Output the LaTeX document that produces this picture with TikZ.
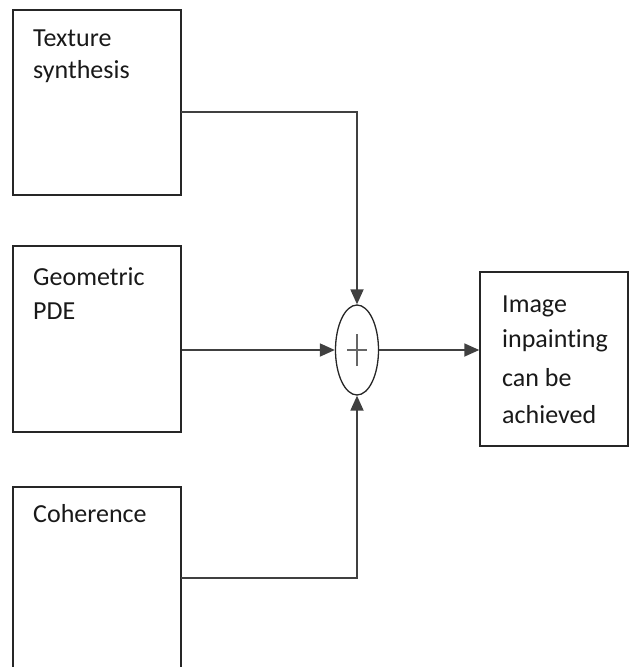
\documentclass[tikz,border=0pt]{standalone}
\usepackage{fontspec}
\setmainfont[Ligatures=NoCommon]{Carlito}
\usetikzlibrary{arrows.meta,shapes.geometric}
\begin{document}
\begin{tikzpicture}[x=1pt,y=-1pt,
  blockbox/.style={draw=black!85,line width=1.5pt,minimum width=168pt,inner sep=0pt},
  openbox/.style={minimum width=168pt,inner sep=0pt},
  label/.style={anchor=base west,inner sep=0pt,font=\fontsize{26}{26}\selectfont,text=black!90},
  conn/.style={draw=black!75,line width=1.8pt},
  arr/.style={conn,-{Triangle[length=15pt,width=13pt]}},
  sumnode/.style={draw=black!85,line width=1.3pt,ellipse,minimum width=43pt,minimum height=90pt,inner sep=0pt}
]
\useasboundingbox (0,0) rectangle (629,667);
% boxes
\node[blockbox,minimum height=185pt] (b1) at (97,102.5) {};
\node[blockbox,minimum height=186pt] (b2) at (97,339) {};
\node[openbox,minimum height=180pt] (b3) at (97,577) {};
\draw[draw=black!85,line width=1.5pt] (b3.south west) |- (b3.north east) -- (b3.south east);
\node[blockbox,minimum width=148pt,minimum height=174pt] (out) at (554,359) {};
% texts
\node[label] (t1a) at (33,46) {Texture};
\node[label] (t1b) at (33,78) {synthesis};
\node[label] (t2a) at (33,285) {Geometric};
\node[label] (t2b) at (33,319) {PDE};
\node[label] (t3a) at (33,522) {Coherence};
\node[label] (t4a) at (502,312) {Image};
\node[label] (t4b) at (502,347) {inpainting};
\node[label] (t4c) at (502,386) {can be};
\node[label] (t4d) at (502,423) {achieved};
% summing junction
\node[sumnode] (sum) at (357,350) {};
\draw[draw=black!60,line width=1.8pt] ([xshift=-10pt]sum.center) -- ([xshift=10pt]sum.center)
  ([yshift=-16pt]sum.center) -- ([yshift=16pt]sum.center);
% connectors
\coordinate (c1) at (181,112);
\coordinate (c3) at (181,578);
\draw[arr] (c1) -| (sum.north);
\draw[arr] (b2.east |- sum.west) -- (sum.west);
\draw[arr] (c3) -| (sum.south);
\draw[arr] (sum.east) -- (out.west |- sum.east);
\end{tikzpicture}
\end{document}
